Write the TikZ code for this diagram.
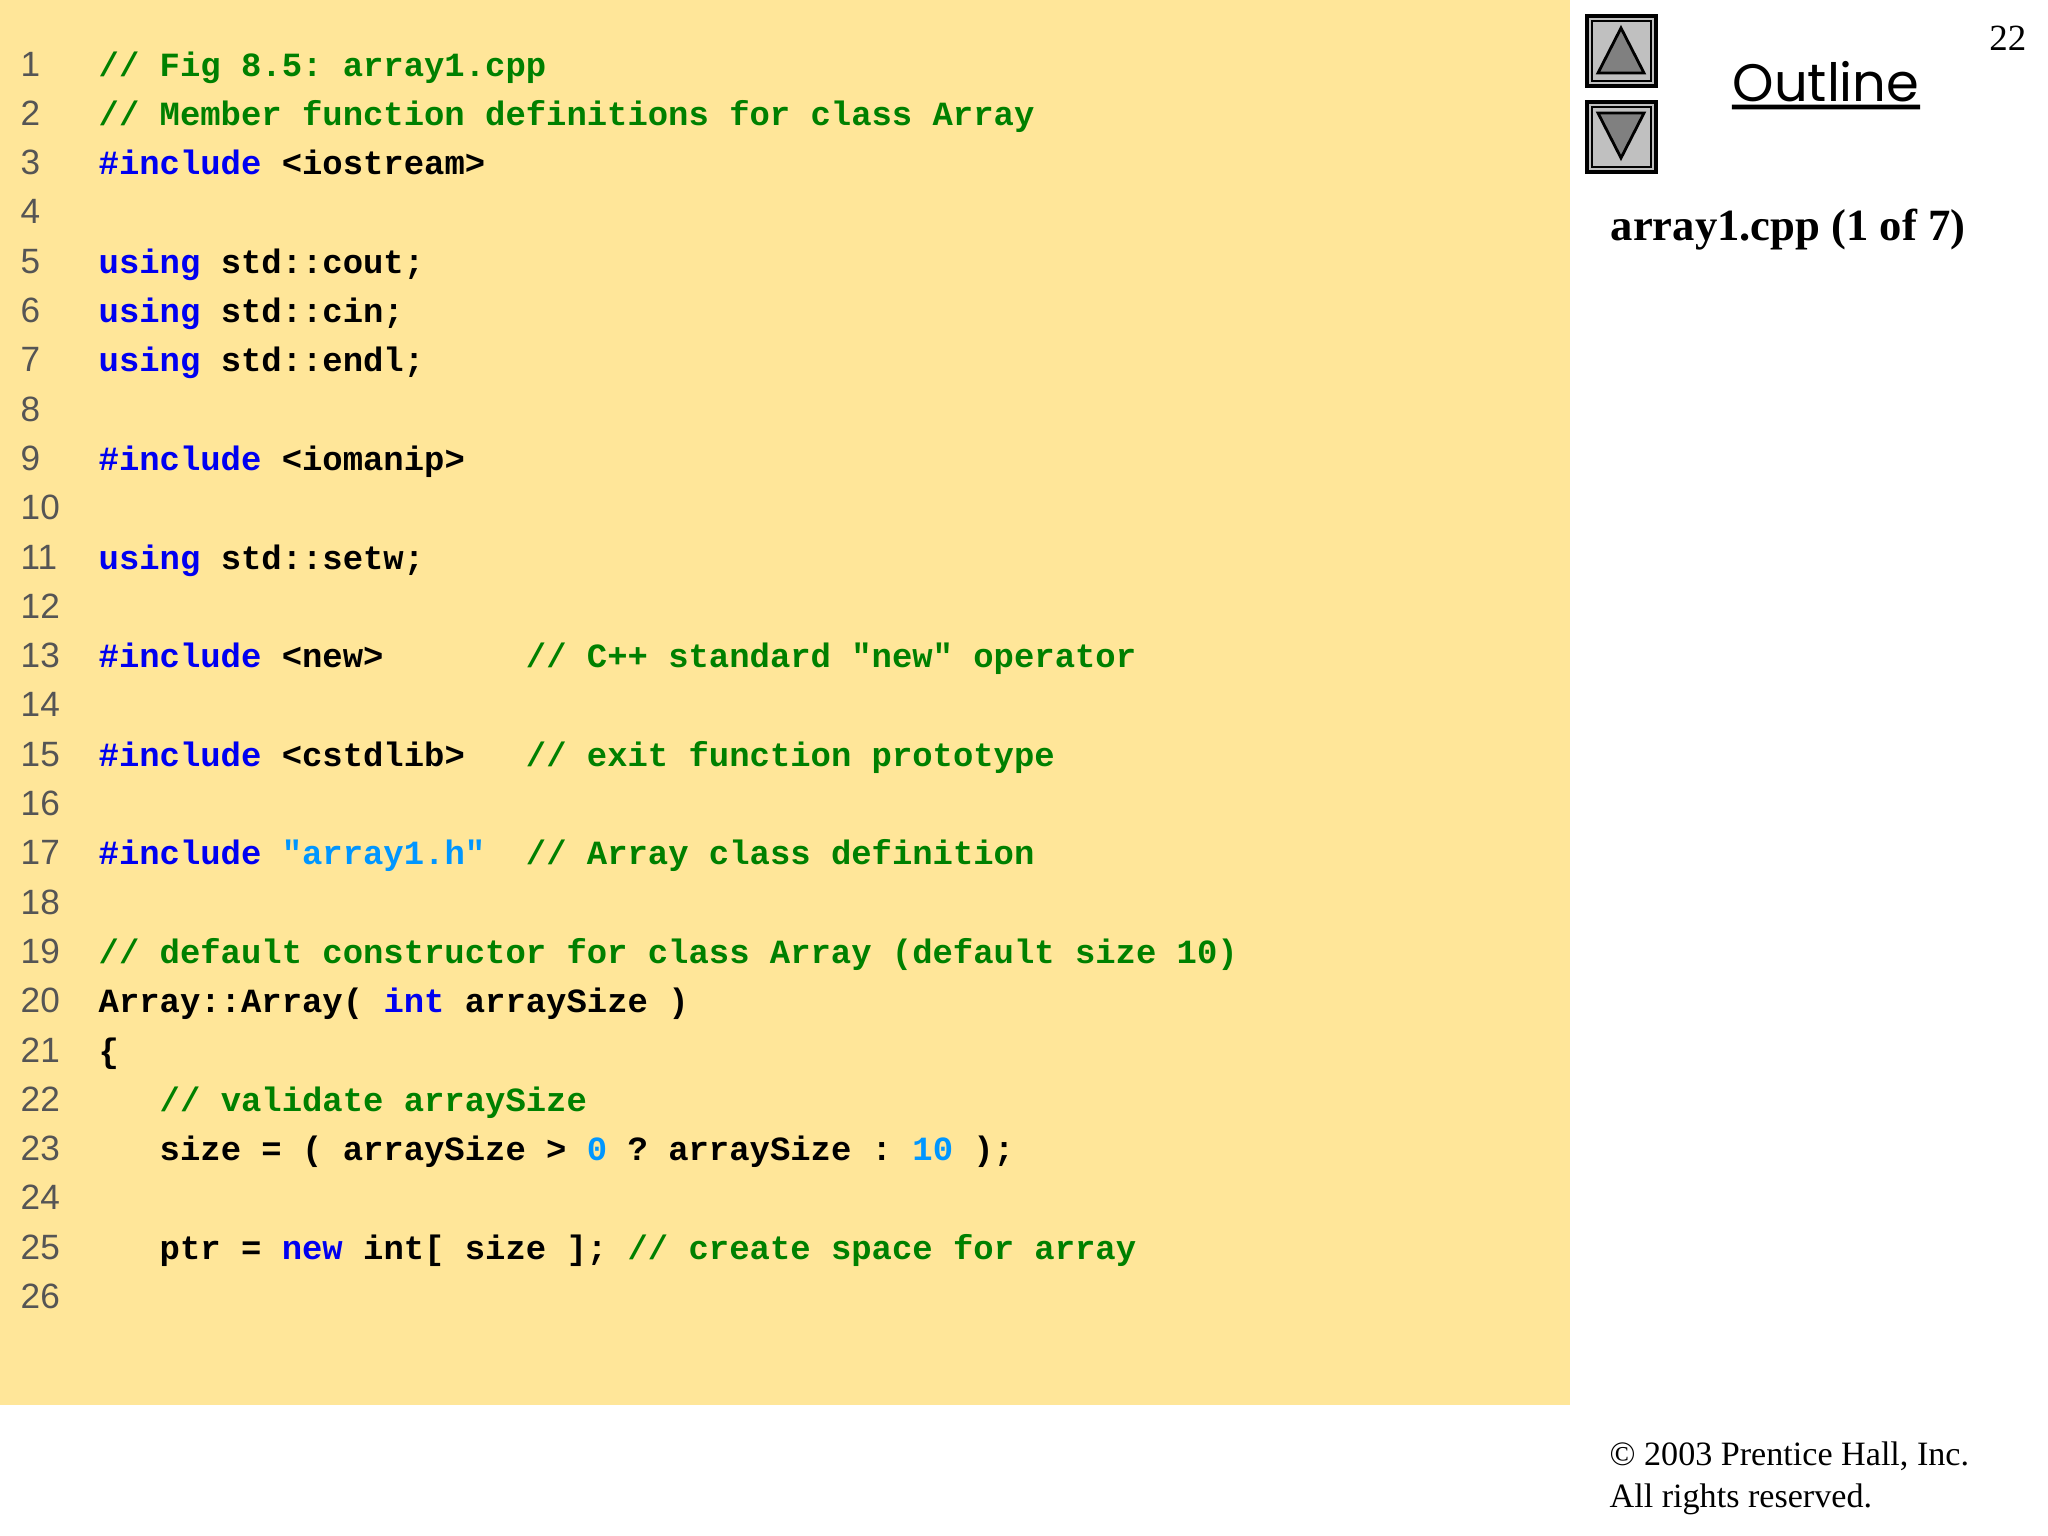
\documentclass[tikz,border=0pt]{standalone}
\usepackage{fontspec}
\setmainfont{Liberation Serif}
\newfontfamily\codefont[Scale=1]{Liberation Mono}
\newfontfamily\numfont{Liberation Sans}
\newfontfamily\outfont{Poppins}
\definecolor{bgyel}{RGB}{255,230,153}
\definecolor{cgreen}{RGB}{0,128,0}
\definecolor{cblue}{RGB}{0,0,240}
\definecolor{clit}{RGB}{0,150,255}
\definecolor{numgray}{RGB}{85,85,85}
\definecolor{btn}{RGB}{192,192,192}
\definecolor{tri}{RGB}{128,128,128}
\newcommand{\cm}[1]{\textcolor{cgreen}{#1}}
\newcommand{\kw}[1]{\textcolor{cblue}{#1}}
\newcommand{\lit}[1]{\textcolor{clit}{#1}}
\begin{document}
\begin{tikzpicture}[x=0.01cm,y=-0.01cm,
  code/.style={anchor=base west,inner sep=0,font=\codefont\bfseries\fontsize{9.64}{11}\selectfont},
  lnum/.style={anchor=base west,inner sep=0,text=numgray,font=\numfont\fontsize{10}{12}\selectfont},
  btnbox/.style={draw=black,line width=1pt,fill=btn},
  trishape/.style={draw=black,line width=0.8pt,fill=tri}]
\useasboundingbox (0,0) rectangle (2048,1536);
\fill[white] (0,0) rectangle (2048,1536);
\fill[bgyel] (0,0) rectangle (1570,1405);
% line numbers and code
\foreach \i in {1,...,26} {
  \node[lnum] (n\i) at (20,{76+(\i-1)*49.3}) {\i};
}
\node[code] (c1) at (98,76) {\cm{//~Fig~8.5:~array1.cpp}};
\node[code] (c2) at (98,125.3) {\cm{//~Member~function~definitions~for~class~Array}};
\node[code] (c3) at (98,174.6) {\kw{\#include}~<iostream>};
\node[code] (c5) at (98,273.2) {\kw{using}~std::cout;};
\node[code] (c6) at (98,322.5) {\kw{using}~std::cin;};
\node[code] (c7) at (98,371.8) {\kw{using}~std::endl;};
\node[code] (c9) at (98,470.4) {\kw{\#include}~<iomanip>};
\node[code] (c11) at (98,569) {\kw{using}~std::setw;};
\node[code] (c13) at (98,667.6) {\kw{\#include}~<new>~~~~~~~\cm{//~C++~standard~"new"~operator}};
\node[code] (c15) at (98,766.2) {\kw{\#include}~<cstdlib>~~~\cm{//~exit~function~prototype}};
\node[code] (c17) at (98,864.8) {\kw{\#include}~\lit{"array1.h"}~~\cm{//~Array~class~definition}};
\node[code] (c19) at (98,963.4) {\cm{//~default~constructor~for~class~Array~(default~size~10)}};
\node[code] (c20) at (98,1012.7) {Array::Array(~\kw{int}~arraySize~)};
\node[code] (c21) at (98,1062) {\{};
\node[code] (c22) at (98,1111.3) {~~~\cm{//~validate~arraySize}};
\node[code] (c23) at (98,1160.6) {~~~size~=~(~arraySize~>~\lit{0}~?~arraySize~:~\lit{10}~);};
\node[code] (c25) at (98,1259.2) {~~~ptr~=~\kw{new}~int[~size~];~\cm{//~create~space~for~array}};
% buttons
\draw[btnbox] (1587,16) rectangle (1656,86);
\draw[black,line width=0.6pt] (1592,21) rectangle (1651,81);
\draw[trishape] (1621,28) -- (1644,73) -- (1598,73) -- cycle;
\draw[btnbox] (1587,102) rectangle (1656,172);
\draw[black,line width=0.6pt] (1592,107) rectangle (1651,167);
\draw[trishape] (1598,113) -- (1644,113) -- (1621,158) -- cycle;
% texts on right
\node[anchor=base,inner sep=0,font=\outfont\fontsize{15}{18}\selectfont] (outl) at (1826,101) {Outline};
\draw[line width=1.3pt] (outl.base west) ++(0,6) -- ([yshift=-0.06cm]outl.base east);
\node[anchor=base east,inner sep=0,font=\fontsize{10.5}{12}\selectfont] (pg) at (2027,50) {22};
\node[anchor=base west,inner sep=0,font=\bfseries\fontsize{12.7}{15}\selectfont] (title) at (1610,240) {array1.cpp (1 of 7)};
\node[anchor=base west,inner sep=0,font=\fontsize{9.7}{12}\selectfont] (copy1) at (1609,1465) {\textcopyright{} 2003 Prentice Hall, Inc.};
\node[anchor=base west,inner sep=0,font=\fontsize{9.7}{12}\selectfont] (copy2) at (1609,1507) {All rights reserved.};
\end{tikzpicture}
\end{document}
